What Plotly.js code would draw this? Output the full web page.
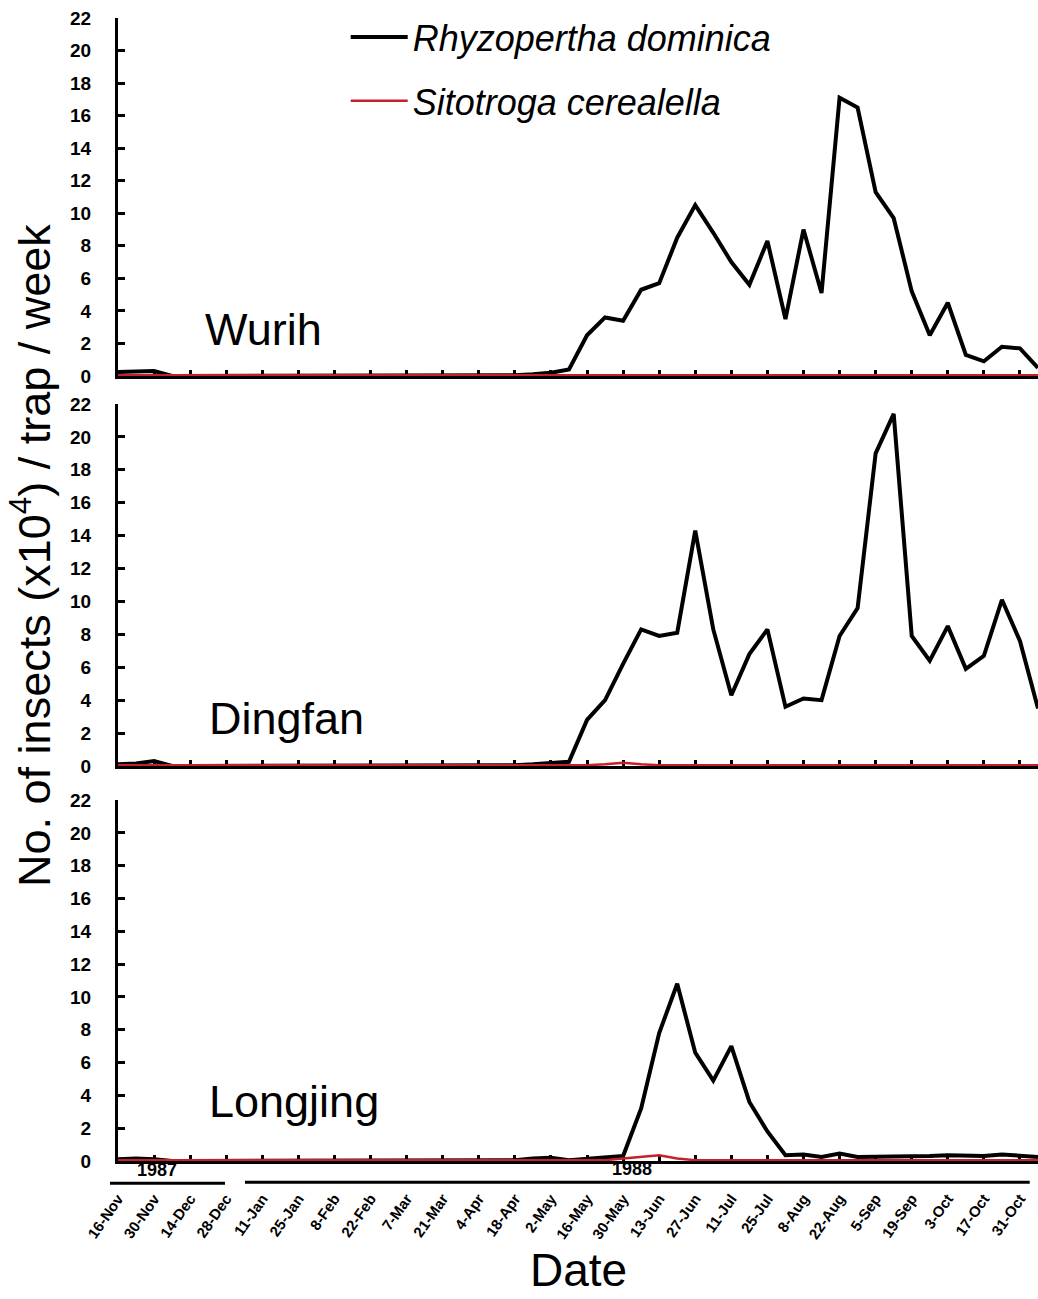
<!DOCTYPE html>
<html>
<head>
<meta charset="utf-8">
<script src="https://cdn.plot.ly/plotly-3.0.1.min.js"></script>
<style>html,body{margin:0;padding:0;background:#fff;}#chart{width:1038px;height:1299px;}</style>
</head>
<body>
<div id="chart"></div>
<script>
const weeks = [
"1987-11-16","1987-11-23","1987-11-30","1987-12-07","1987-12-14","1987-12-21","1987-12-28",
"1988-01-04","1988-01-11","1988-01-18","1988-01-25","1988-02-01","1988-02-08","1988-02-15",
"1988-02-22","1988-02-29","1988-03-07","1988-03-14","1988-03-21","1988-03-28","1988-04-04",
"1988-04-11","1988-04-18","1988-04-25","1988-05-02","1988-05-09","1988-05-16","1988-05-23",
"1988-05-30","1988-06-06","1988-06-13","1988-06-20","1988-06-27","1988-07-04","1988-07-11",
"1988-07-18","1988-07-25","1988-08-01","1988-08-08","1988-08-15","1988-08-22","1988-08-29",
"1988-09-05","1988-09-12","1988-09-19","1988-09-26","1988-10-03","1988-10-10","1988-10-17",
"1988-10-24","1988-10-31","1988-11-07"];

const tickDates = ["1987-11-16","1987-11-30","1987-12-14","1987-12-28","1988-01-11","1988-01-25",
"1988-02-08","1988-02-22","1988-03-07","1988-03-21","1988-04-04","1988-04-18","1988-05-02",
"1988-05-16","1988-05-30","1988-06-13","1988-06-27","1988-07-11","1988-07-25","1988-08-08",
"1988-08-22","1988-09-05","1988-09-19","1988-10-03","1988-10-17","1988-10-31"];
const tickLabels = ["16-Nov","30-Nov","14-Dec","28-Dec","11-Jan","25-Jan","8-Feb","22-Feb","7-Mar",
"21-Mar","4-Apr","18-Apr","2-May","16-May","30-May","13-Jun","27-Jun","11-Jul","25-Jul","8-Aug",
"22-Aug","5-Sep","19-Sep","3-Oct","17-Oct","31-Oct"];

const sites = ["Wurih","Dingfan","Longjing"];
const speciesNames = ["Rhyzopertha dominica","Sitotroga cerealella"];
const yearLabels = ["1987","1988"];

// Rhyzopertha dominica, weekly
const wurihRD = [0.25,0.25,0.3,0,0,0,0,0,0,0,
0,0,0,0,0,0,0,0,0,0,
0,0,0.05,0.1,0.2,0.4,2.5,3.6,3.4,5.3,
5.7,8.5,10.5,8.8,7.0,5.6,8.3,3.5,9.0,5.1,
17.1,16.5,11.3,9.7,5.2,2.5,4.5,1.3,0.9,1.8,
1.7,0.5];
const dingfanRD = [0.1,0.15,0.3,0,0,0,0,0,0,0,
0,0,0,0,0,0,0,0,0,0,
0,0,0.05,0.1,0.2,0.25,2.8,4.0,6.2,8.3,
7.9,8.1,14.3,8.3,4.3,6.8,8.3,3.6,4.1,4.0,
7.9,9.6,19.0,21.4,7.9,6.4,8.5,5.9,6.7,10.1,
7.6,3.5];
const longjingRD = [0.1,0.15,0.1,0,0,0,0,0,0,0,
0,0,0,0,0,0,0,0,0,0,
0,0,0.05,0.15,0.2,0.05,0.15,0.2,0.3,3.2,
7.8,10.8,6.6,4.9,7.0,3.6,1.8,0.35,0.4,0.25,
0.45,0.25,0.25,0.25,0.3,0.3,0.35,0.3,0.3,0.4,
0.35,0.25];

// Sitotroga cerealella, weekly
const wurihSC = [0.05,0.05,0.05,0.05,0.05,0.05,0.05,0.05,0.05,0.05,
0.05,0.05,0.05,0.05,0.05,0.05,0.05,0.05,0.05,0.05,
0.05,0.05,0.05,0.05,0.05,0.05,0.05,0.05,0.05,0.05,
0.05,0.05,0.05,0.05,0.05,0.05,0.05,0.05,0.05,0.05,
0.05,0.05,0.05,0.05,0.05,0.05,0.05,0.05,0.05,0.05,
0.05,0.05];
const dingfanSC = [0.05,0.05,0.05,0.05,0.05,0.05,0.05,0.05,0.05,0.05,
0.05,0.05,0.05,0.05,0.05,0.05,0.05,0.05,0.05,0.05,
0.05,0.05,0.05,0.05,0.05,0.05,0.05,0.1,0.2,0.1,
0.05,0.05,0.05,0.05,0.05,0.05,0.05,0.05,0.05,0.05,
0.05,0.05,0.05,0.05,0.05,0.05,0.05,0.05,0.05,0.05,
0.05,0.05];
const longjingSC = [0.05,0.05,0.05,0.05,0.05,0.05,0.05,0.05,0.05,0.05,
0.05,0.05,0.05,0.05,0.05,0.05,0.05,0.05,0.05,0.05,
0.05,0.05,0.05,0.05,0.05,0.05,0.05,0.05,0.15,0.25,
0.35,0.15,0.05,0.05,0.05,0.05,0.05,0.05,0.05,0.05,
0.05,0.05,0.05,0.05,0.05,0.05,0.05,0.05,0.05,0.05,
0.05,0.05];

const rdSeries = [wurihRD, dingfanRD, longjingRD];
const scSeries = [wurihSC, dingfanSC, longjingSC];

const FONT = "Liberation Sans, Arial, Helvetica, sans-serif";
const BLACK = "#000000";
const RED = "#c8202a";

const traces = [];
for (let i = 0; i < 3; i++) {
  const ax = i === 0 ? "" : String(i + 1);
  traces.push({
    x: weeks, y: rdSeries[i], type: "scatter", mode: "lines",
    name: speciesNames[0], legendgroup: "rd", showlegend: i === 0,
    line: {color: BLACK, width: 4},
    xaxis: "x" + ax, yaxis: "y" + ax
  });
  traces.push({
    x: weeks, y: scSeries[i], type: "scatter", mode: "lines",
    name: speciesNames[1], legendgroup: "sc", showlegend: i === 0,
    line: {color: RED, width: 2.5},
    xaxis: "x" + ax, yaxis: "y" + ax
  });
}

const domains = [[0.6868, 1], [0.3456, 0.6623], [0, 0.3158]];

function xAxis(i) {
  return {
    type: "date",
    range: ["1987-11-16", "1988-11-07"],
    anchor: i === 0 ? "y" : "y" + (i + 1),
    tickmode: "array", tickvals: tickDates, ticktext: tickLabels,
    showticklabels: i === 2,
    tickangle: -55,
    tickfont: {family: FONT, size: 15, color: BLACK, weight: "bold"},
    ticks: "inside", ticklen: 6, tickwidth: 3, tickcolor: BLACK,
    showline: true, linewidth: 3, linecolor: BLACK,
    showgrid: false, zeroline: false, layer: "below traces",
    ticklabelstandoff: 20
  };
}
function yAxis(i) {
  return {
    domain: domains[i],
    anchor: i === 0 ? "x" : "x" + (i + 1),
    range: [0, 22],
    tickmode: "linear", tick0: 0, dtick: 2,
    tickfont: {family: FONT, size: 19, color: BLACK, weight: "bold"},
    ticks: "inside", ticklen: 7, tickwidth: 3, tickcolor: BLACK,
    showline: true, linewidth: 3, linecolor: BLACK,
    showgrid: false, zeroline: false, layer: "below traces",
    ticklabelstandoff: 20
  };
}

const layout = {
  width: 1038, height: 1299,
  margin: {l: 118, r: 0, t: 18, b: 138},
  paper_bgcolor: "#ffffff", plot_bgcolor: "#ffffff",
  font: {family: FONT, color: BLACK},
  showlegend: true,
  legend: {
    x: 0.2475, y: 1.0095, xanchor: "left", yanchor: "top",
    font: {family: FONT, size: 36, color: BLACK, style: "italic"},
    itemwidth: 57, traceorder: "grouped", tracegroupgap: 14,
    bgcolor: "rgba(0,0,0,0)", borderwidth: 0
  },
  xaxis: xAxis(0), yaxis: yAxis(0),
  xaxis2: xAxis(1), yaxis2: yAxis(1),
  xaxis3: xAxis(2),
  yaxis3: yAxis(2),
  shapes: [
    {type: "line", xref: "paper", yref: "paper", x0: -0.0087, x1: 0.1163, y0: -0.0195, y1: -0.0195,
     line: {color: BLACK, width: 3}},
    {type: "line", xref: "paper", yref: "paper", x0: 0.138, x1: 0.991, y0: -0.0185, y1: -0.0185,
     line: {color: BLACK, width: 3}}
  ],
  annotations: [
    {text: "No. of insects (x10<sup>4</sup>) / trap / week", xref: "paper", yref: "paper",
     x: -0.0946, y: 0.5302, xanchor: "center", yanchor: "middle", textangle: -90, showarrow: false,
     font: {family: FONT, size: 45, color: BLACK}},
    {text: "Date", xref: "paper", yref: "paper",
     x: 0.5, y: -0.1195, xanchor: "center", yanchor: "bottom", showarrow: false,
     font: {family: FONT, size: 46, color: BLACK}},
    {text: sites[0], xref: "paper", yref: "y", x: 0.0924, y: 2.85, xanchor: "left", yanchor: "middle",
     showarrow: false, font: {family: FONT, size: 45, color: BLACK}},
    {text: sites[1], xref: "paper", yref: "y2", x: 0.0967, y: 2.9, xanchor: "left", yanchor: "middle",
     showarrow: false, font: {family: FONT, size: 45, color: BLACK}},
    {text: sites[2], xref: "paper", yref: "y3", x: 0.0967, y: 3.65, xanchor: "left", yanchor: "middle",
     showarrow: false, font: {family: FONT, size: 45, color: BLACK}},
    {text: yearLabels[0], xref: "paper", yref: "paper", x: 0.0424, y: -0.0185, xanchor: "center", yanchor: "bottom",
     showarrow: false, font: {family: FONT, size: 18, color: BLACK, weight: "bold"}},
    {text: yearLabels[1], xref: "paper", yref: "paper", x: 0.5587, y: -0.0175, xanchor: "center", yanchor: "bottom",
     showarrow: false, font: {family: FONT, size: 18, color: BLACK, weight: "bold"}}
  ]
};

Plotly.newPlot("chart", traces, layout, {staticPlot: true, displayModeBar: false});
</script>
</body>
</html>
